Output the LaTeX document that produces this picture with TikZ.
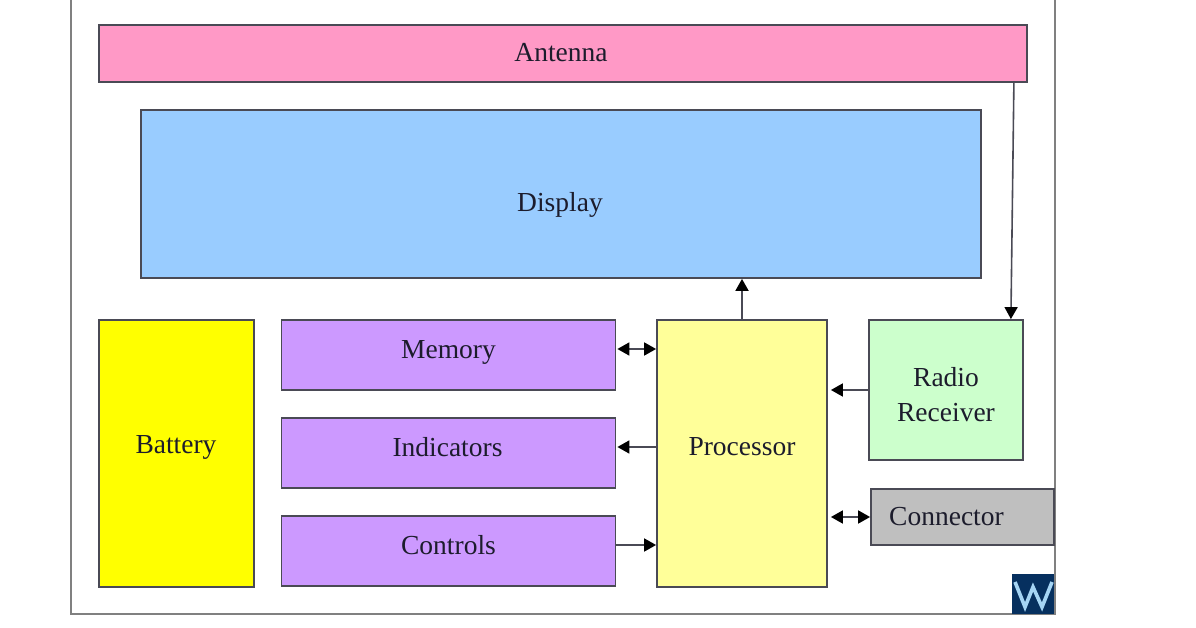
\documentclass[tikz,border=0pt]{standalone}
\usepackage{fontspec}
\setmainfont{Liberation Serif}
\usetikzlibrary{arrows.meta}
\definecolor{edgegrey}{HTML}{4A4A55}
\definecolor{framegrey}{HTML}{808080}
\definecolor{pinkfill}{HTML}{FF99C6}
\definecolor{bluefill}{HTML}{99CCFF}
\definecolor{purplefill}{HTML}{CC99FF}
\definecolor{purefill}{HTML}{FFFF00}
\definecolor{paleyellow}{HTML}{FFFF99}
\definecolor{palegreen}{HTML}{CCFFCC}
\definecolor{greyfill}{HTML}{BFBFBF}
\definecolor{navylogo}{HTML}{06305F}
\definecolor{wavelogo}{HTML}{A5D5F5}
\definecolor{inktext}{HTML}{1C1C2C}
\tikzset{
  blockbox/.style={draw=edgegrey,line width=1.8pt,inner sep=0pt,rectangle},
  blocktext/.style={font=\fontsize{27.5}{35}\selectfont,text=inktext,align=center,inner sep=0pt},
  wire/.style={draw=edgegrey,line width=1.8pt},
  onearrow/.style={wire,-{Triangle[length=12pt,width=13pt,fill=black,color=black]}},
  twoarrow/.style={wire,{Triangle[length=12pt,width=13pt,fill=black,color=black]}-{Triangle[length=12pt,width=13pt,fill=black,color=black]}},
  framepen/.style={draw=framegrey,line width=2pt}
}
\begin{document}
\begin{tikzpicture}[x=1pt,y=-1pt]
\useasboundingbox (0,0) rectangle (1196,628);
\fill[white] (0,0) rectangle (1196,628);
% outer frame, open at the top
\draw[framepen] (71,-2) -- (71,614) -- (1055,614) -- (1055,-2);
% blocks
\node[blockbox,fill=pinkfill,minimum width=928pt,minimum height=57pt,label={[blocktext,xshift=-2pt,yshift=0.5pt]center:Antenna}] (ant) at (563,53.5) {};
\node[blockbox,fill=bluefill,minimum width=840pt,minimum height=168pt,label={[blocktext,xshift=-1pt,yshift=-11pt]center:Display}] (disp) at (561,194) {};
\node[blockbox,fill=purefill,minimum width=155pt,minimum height=267pt,label={[blocktext,xshift=-0.5pt,yshift=6pt]center:Battery}] (batt) at (176.5,453.5) {};
\node[blockbox,fill=purplefill,minimum width=334pt,minimum height=70pt,label={[blocktext,yshift=3pt]center:Memory}] (mem) at (448.5,355) {};
\node[blockbox,fill=purplefill,minimum width=334pt,minimum height=70pt,label={[blocktext,xshift=-1pt,yshift=6pt]center:Indicators}] (ind) at (448.5,453) {};
\node[blockbox,fill=purplefill,minimum width=334pt,minimum height=70pt,label={[blocktext,yshift=6pt]center:Controls}] (ctl) at (448.5,551) {};
\node[blockbox,fill=paleyellow,minimum width=170pt,minimum height=267pt,label={[blocktext,yshift=7pt]center:Processor}] (proc) at (742,453.5) {};
\node[blockbox,fill=palegreen,minimum width=154pt,minimum height=140pt,label={[blocktext,yshift=-5pt]center:Radio\\Receiver}] (radio) at (946,390) {};
\node[blockbox,fill=greyfill,minimum width=183pt,minimum height=56pt,label={[blocktext,xshift=-16pt,yshift=0pt]center:Connector}] (conn) at (962.5,517) {};
% logo
\node[rectangle,fill=navylogo,minimum width=42pt,minimum height=40pt,inner sep=0pt] (logo) at (1033,594) {};
\draw[wavelogo,line width=3.6pt,line join=miter] ([xshift=-18pt,yshift=12pt]logo.center) -- ([xshift=-8pt,yshift=-13pt]logo.center) -- ([yshift=7pt]logo.center) -- ([xshift=9pt,yshift=-13pt]logo.center) -- ([xshift=19pt,yshift=12pt]logo.center);
% connectors
\draw[onearrow] (proc.north) -- (proc.north |- disp.south);
\draw[twoarrow] ([xshift=1pt,yshift=6pt]mem.east) -- ([yshift=6pt]mem.east -| proc.west);
\draw[onearrow] ([yshift=6pt]ind.east -| proc.west) -- ([xshift=1pt,yshift=6pt]ind.east);
\draw[onearrow] ([yshift=6pt]ctl.east) -- ([yshift=6pt]ctl.east -| proc.west);
\draw[onearrow] (radio.west) -- ([xshift=3pt]radio.west -| proc.east);
\draw[twoarrow] ([xshift=3pt]conn.west -| proc.east) -- (conn.west);
\draw[onearrow,line width=1.6pt] ([xshift=-14pt]ant.south east) -- ([xshift=-13pt]radio.north east);
\end{tikzpicture}
\end{document}
